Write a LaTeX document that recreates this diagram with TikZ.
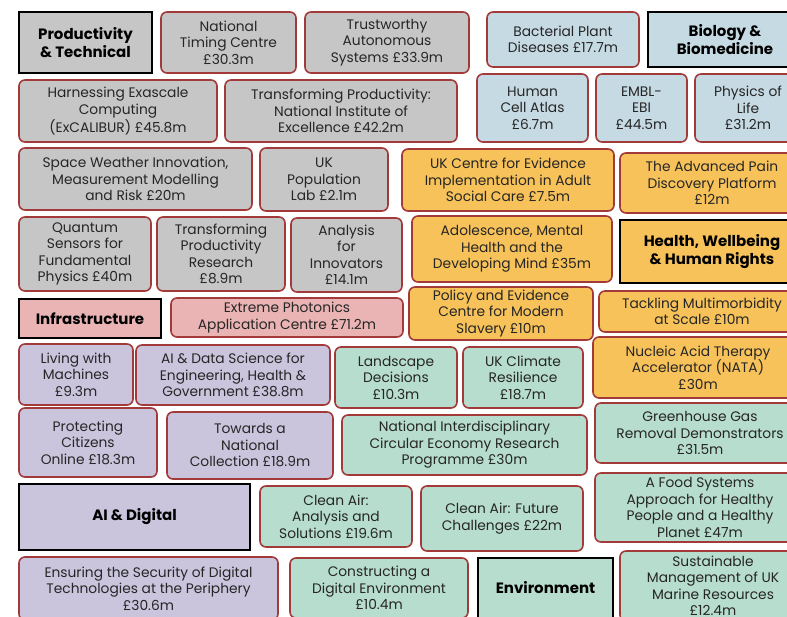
\documentclass[tikz,border=0pt]{standalone}
\usepackage{fontspec}
\setmainfont{Poppins}
\definecolor{edgered}{HTML}{A33A3A}
\definecolor{techgrey}{HTML}{C6C6C6}
\definecolor{bioblue}{HTML}{C6DAE3}
\definecolor{healthgold}{HTML}{F7C259}
\definecolor{infrapink}{HTML}{EAB3B4}
\definecolor{aililac}{HTML}{CAC5DD}
\definecolor{envmint}{HTML}{B7DDCE}
\begin{document}
\begin{tikzpicture}[x=1pt, y=-1pt,
  every node/.style={inner sep=0pt, align=center, text=black!85,
    font=\fontsize{13.8}{16.5}\selectfont},
  tile/.style={draw=edgered, line width=1.6pt, rounded corners=6pt},
  hdr/.style={draw=black, line width=2.8pt, text=black,
    font=\fontsize{15}{17.5}\selectfont\bfseries},
  sz/.style 2 args={minimum width=#1pt, minimum height=#2pt}]
  \useasboundingbox (0,0) rectangle (787,616);
  \clip (0,0) rectangle (787,616);

  % Productivity & Technical
  \node[hdr, fill=techgrey, sz={133}{61}] (prodhdr) at (85.5,42.5) {Productivity\\\& Technical};
  \node[tile, fill=techgrey, sz={135}{61}] (ntc) at (228.5,42.5) {National\\Timing Centre\\£30.3m};
  \node[tile, fill=techgrey, sz={164}{61}] (tas) at (387,42.5) {Trustworthy\\Autonomous\\Systems £33.9m};
  \node[tile, fill=techgrey, sz={198}{62}] (exa) at (118,111) {Harnessing Exascale\\Computing\\(ExCALIBUR) £45.8m};
  \node[tile, fill=techgrey, sz={232}{62}] (nie) at (341,111) {Transforming Productivity:\\National Institute of\\Excellence £42.2m};
  \node[tile, fill=techgrey, sz={233}{62}] (swx) at (135.5,179) {Space Weather Innovation,\\Measurement Modelling\\and Risk £20m};
  \node[tile, fill=techgrey, sz={128}{63}] (upl) at (324,179.5) {UK\\Population\\Lab £2.1m};
  \node[tile, fill=techgrey, sz={132}{74}] (qsf) at (85,254) {Quantum\\Sensors for\\Fundamental\\Physics £40m};
  \node[tile, fill=techgrey, sz={128}{74}] (tpr) at (221,254) {Transforming\\Productivity\\Research\\£8.9m};
  \node[tile, fill=techgrey, sz={111}{74}] (afi) at (346.5,255) {Analysis\\for\\Innovators\\£14.1m};

  % Biology & Biomedicine
  \node[tile, fill=bioblue, sz={152}{55}] (bpd) at (563,39.5) {Bacterial Plant\\Diseases £17.7m};
  \node[hdr, fill=bioblue, sz={154}{55}] (biohdr) at (725,39.5) {Biology \&\\Biomedicine};
  \node[tile, fill=bioblue, sz={111}{68}] (hca) at (532.5,108) {Human\\Cell Atlas\\£6.7m};
  \node[tile, fill=bioblue, sz={91}{68}] (embl) at (641.5,108) {EMBL-\\EBI\\£44.5m};
  \node[tile, fill=bioblue, sz={106}{68}] (pol) at (748,108) {Physics of\\Life\\£31.2m};

  % Health, Wellbeing & Human Rights
  \node[tile, fill=healthgold, sz={212}{62}] (ukce) at (508,180) {UK Centre for Evidence\\Implementation in Adult\\Social Care £7.5m};
  \node[tile, fill=healthgold, sz={184}{60}] (apd) at (712,183) {The Advanced Pain\\Discovery Platform\\£12m};
  \node[tile, fill=healthgold, sz={200}{66}] (amh) at (512,249) {Adolescence, Mental\\Health and the\\Developing Mind £35m};
  \node[hdr, fill=healthgold, sz={184}{63}] (healthhdr) at (712,251.5) {Health, Wellbeing\\\& Human Rights};
  \node[tile, fill=healthgold, sz={184}{53}] (pecms) at (501,313.5) {Policy and Evidence\\Centre for Modern\\Slavery £10m};
  \node[tile, fill=healthgold, sz={206}{41}] (tms) at (702,311.5) {Tackling Multimorbidity\\at Scale £10m};
  \node[tile, fill=healthgold, sz={210}{61}] (nata) at (698,367.5) {Nucleic Acid Therapy\\Accelerator (NATA)\\£30m};

  % Infrastructure
  \node[hdr, fill=infrapink, sz={142}{39}] (infrahdr) at (90,318.5) {Infrastructure};
  \node[tile, fill=infrapink, sz={232}{39}] (epac) at (287,317.5) {Extreme Photonics\\Application Centre £71.2m};

  % AI & Digital
  \node[tile, fill=aililac, sz={114}{61}] (lwm) at (76,374.5) {Living with\\Machines\\£9.3m};
  \node[tile, fill=aililac, sz={194}{60}] (aids) at (233,375) {AI \& Data Science for\\Engineering, Health \&\\Government £38.8m};
  \node[tile, fill=aililac, sz={138}{69}] (pco) at (88,442.5) {Protecting\\Citizens\\Online £18.3m};
  \node[tile, fill=aililac, sz={166}{67}] (tnc) at (250,445.5) {Towards a\\National\\Collection £18.9m};
  \node[hdr, fill=aililac, sz={231}{66}] (aihdr) at (134.5,517) {AI \& Digital};
  \node[tile, fill=aililac, sz={259}{63}] (esdt) at (148.5,588.5) {Ensuring the Security of Digital\\Technologies at the Periphery\\£30.6m};

  % Environment
  \node[tile, fill=envmint, sz={122}{61}] (lsd) at (396,377.5) {Landscape\\Decisions\\£10.3m};
  \node[tile, fill=envmint, sz={120}{61}] (ukcr) at (523,377.5) {UK Climate\\Resilience\\£18.7m};
  \node[tile, fill=envmint, sz={245}{60}] (nice) at (464.5,445) {National Interdisciplinary\\Circular Economy Research\\Programme £30m};
  \node[tile, fill=envmint, sz={210}{60}] (ggr) at (700,433) {Greenhouse Gas\\Removal Demonstrators\\£31.5m};
  \node[tile, fill=envmint, sz={152}{61}] (caas) at (336,516.5) {Clean Air:\\Analysis and\\Solutions £19.6m};
  \node[tile, fill=envmint, sz={162}{65}] (cafc) at (502,518.5) {Clean Air: Future\\Challenges £22m};
  \node[tile, fill=envmint, sz={210}{69}] (fsa) at (700,507.5) {A Food Systems\\Approach for Healthy\\People and a Healthy\\Planet £47m};
  \node[tile, fill=envmint, sz={178}{60}] (cde) at (379,588) {Constructing a\\Digital Environment\\£10.4m};
  \node[hdr, fill=envmint, sz={135}{60}] (envhdr) at (545.5,588) {Environment};
  \node[tile, fill=envmint, sz={186}{70}] (smuk) at (713,586) {Sustainable\\Management of UK\\Marine Resources\\£12.4m};
\end{tikzpicture}
\end{document}
